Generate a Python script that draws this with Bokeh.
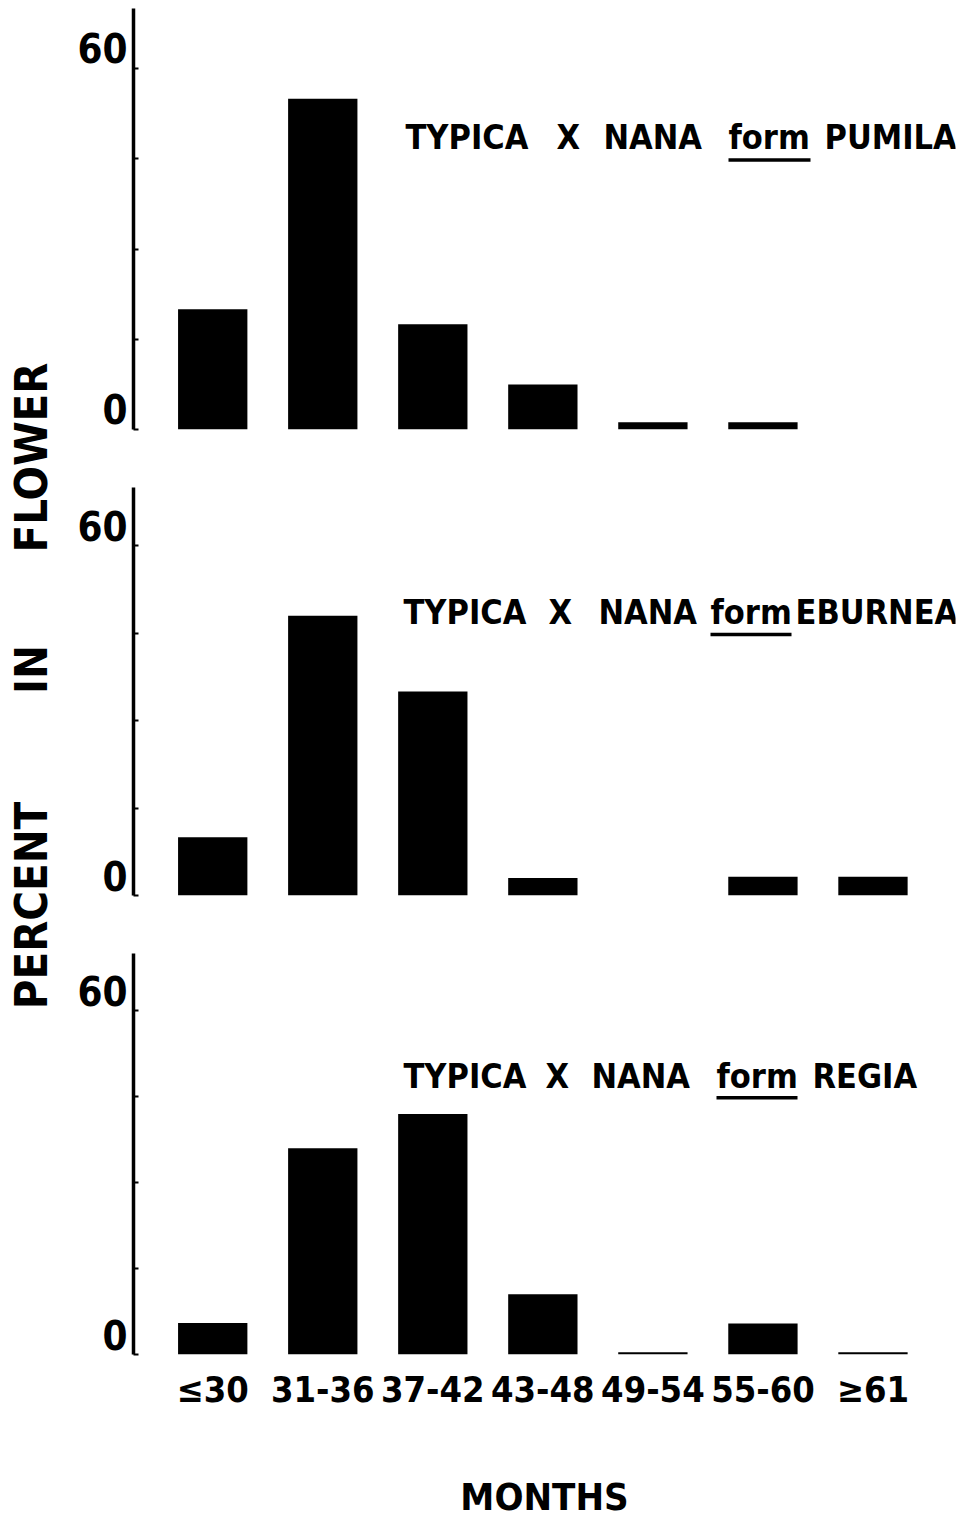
import numpy as np
from math import pi
from bokeh.plotting import figure
from bokeh.layouts import row, column
from bokeh.models import Range1d, FixedTicker, Label, LinearAxis
from bokeh.embed import file_html
from bokeh.resources import INLINE

# ---- data ----
months = ["≤30", "31-36", "37-42", "43-48", "49-54", "55-60", "≥61"]
pumila = [20, 55, 17.5, 7.5, 1.2, 1.2, 0]
eburnea = [10, 48, 35, 3, 0, 3.2, 3.2]
regia = [5.5, 36, 42, 10.5, 0.4, 5.4, 0.4]
y_ticks = [0, 15, 30, 45, 60]
y_labelled = [0, 60]
title_words = [["TYPICA", "X", "NANA", "form", "PUMILA"],
               ["TYPICA", "X", "NANA", "form", "EBURNEA"],
               ["TYPICA", "X", "NANA", "form", "REGIA"]]
y_title = ["PERCENT", "IN", "FLOWER"]
x_title = "MONTHS"

FONT = "DejaVu Sans Condensed"
xs = np.arange(len(months))

X0, X1 = -0.72, 6.75
FRAME_W = 822
PX = FRAME_W / (X1 - X0)          # pixels per category unit
LAB_W = 70
BORDER_L = 63
PAGE_X0 = LAB_W + BORDER_L        # page x of frame left


def px2x(px):
    return X0 + (px - PAGE_X0) / PX


# word start positions (page px) for the panel titles
word_px = [[405, 556, 603, 728, 824],
           [403, 548, 598, 710, 795],
           [403, 545, 591, 716, 812]]
form_end_px = [810, 791, 797]
frame_h = [421, 408, 401]
border_t = [8, 0, 0]
border_b = [58, 58, 165]
LBL_SHIFT = 3.4
TITLE_Y = 48.6
ULINE_Y = 44.8


def make_panel(i, vals):
    p = figure(frame_width=FRAME_W, frame_height=frame_h[i],
               x_range=Range1d(X0, X1), y_range=Range1d(0, 70),
               min_border_left=BORDER_L, min_border_right=8,
               min_border_top=border_t[i], min_border_bottom=border_b[i],
               output_backend="svg", toolbar_location=None)
    p.outline_line_color = None
    p.grid.visible = False
    p.vbar(x=xs, top=vals, bottom=0, width=0.63,
           fill_color="black", line_color=None)

    ya = p.yaxis[0]
    ya.ticker = FixedTicker(ticks=y_ticks)
    ya.major_label_overrides = {t: "" for t in y_ticks}
    ya.major_label_standoff = 0
    ya.axis_line_width = 3.5
    ya.axis_line_color = "black"
    ya.major_tick_in = 5
    ya.major_tick_out = 0
    ya.major_tick_line_width = 2
    ya.minor_tick_line_color = None

    # labels sit just above their ticks, as in the original
    p.extra_y_ranges = {"lbl": Range1d(-LBL_SHIFT, 70 - LBL_SHIFT)}
    la = LinearAxis(y_range_name="lbl", ticker=FixedTicker(ticks=y_labelled))
    la.axis_line_color = None
    la.major_tick_line_color = None
    la.minor_tick_line_color = None
    la.major_label_text_font = FONT
    la.major_label_text_font_style = "bold"
    la.major_label_text_font_size = "40px"
    la.major_label_text_color = "black"
    la.major_label_standoff = 0
    p.add_layout(la, "left")

    xa = p.xaxis[0]
    if i < 2:
        xa.visible = False
    else:
        xa.ticker = FixedTicker(ticks=list(xs))
        xa.major_label_overrides = {int(k): m for k, m in zip(xs, months)}
        xa.axis_line_color = None
        xa.major_tick_line_color = None
        xa.minor_tick_line_color = None
        xa.major_label_text_font = FONT
        xa.major_label_text_font_style = "bold"
        xa.major_label_text_font_size = "36px"
        xa.major_label_text_color = "black"
        xa.major_label_standoff = 8
        xa.axis_label = x_title
        xa.axis_label_text_font = FONT
        xa.axis_label_text_font_style = "bold"
        xa.axis_label_text_font_size = "38px"
        xa.axis_label_text_color = "black"
        xa.axis_label_standoff = 62

    for w, wx in zip(title_words[i], word_px[i]):
        p.add_layout(Label(x=px2x(wx), y=TITLE_Y, text=w, text_font=FONT,
                           text_font_style="bold", text_font_size="34px",
                           text_color="black", text_baseline="alphabetic",
                           text_align="left"))
    fx0 = px2x(word_px[i][3])
    fx1 = px2x(form_end_px[i])
    p.segment(x0=[fx0], y0=[ULINE_Y], x1=[fx1], y1=[ULINE_Y],
              line_color="black", line_width=3.5)
    return p


p1 = make_panel(0, pumila)
p2 = make_panel(1, eburnea)
p3 = make_panel(2, regia)

# left label strip spanning all panels (page pixel coordinates)
lab = figure(width=LAB_W, height=1519, x_range=Range1d(0, LAB_W),
             y_range=Range1d(1519, 0), min_border=0,
             output_backend="svg", toolbar_location=None)
lab.axis.visible = False
lab.grid.visible = False
lab.outline_line_color = None
for t, yy in zip(y_title, (905, 669, 457)):
    lab.add_layout(Label(x=31, y=yy, text=t, angle=pi / 2, text_font=FONT,
                         text_font_style="bold", text_font_size="45px",
                         text_color="black", text_align="center",
                         text_baseline="middle"))

layout = row(lab, column(p1, p2, p3))

open("out.html", "w").write(file_html(layout, INLINE))
